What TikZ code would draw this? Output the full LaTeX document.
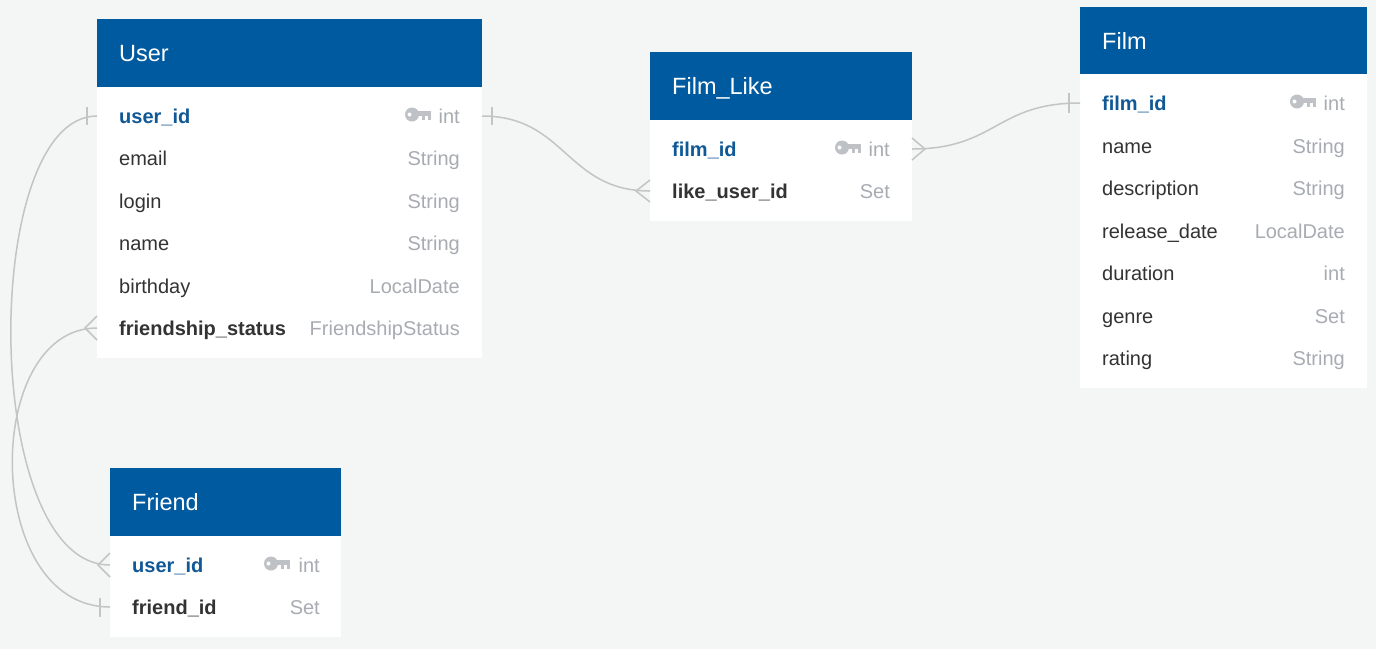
\documentclass[tikz,border=0pt]{standalone}
\usepackage{fontspec}
\setmainfont{Liberation Sans}
\usetikzlibrary{calc}
\definecolor{bg}{RGB}{244,245,245}
\definecolor{hdr}{RGB}{0,90,160}
\definecolor{pk}{RGB}{16,88,150}
\definecolor{txt}{RGB}{51,51,51}
\definecolor{typ}{RGB}{168,172,178}
\definecolor{keyc}{RGB}{190,193,197}
\definecolor{ln}{RGB}{196,196,196}
\tikzset{
 tbody/.style={fill=white, draw=none, inner sep=0pt, outer sep=0pt, anchor=north west},
 thead/.style={fill=hdr, draw=none, inner sep=0pt, outer sep=0pt, anchor=north west, minimum height=68pt},
 htext/.style={text=white, font=\fontsize{23.5}{28}\selectfont, inner sep=0pt, anchor=base west},
 fld/.style={text=txt, font=\fontsize{20}{24}\selectfont, inner sep=0pt, anchor=base west},
 fldb/.style={text=txt, font=\fontsize{20}{24}\selectfont\bfseries, inner sep=0pt, anchor=base west},
 fpk/.style={text=pk, font=\fontsize{20}{24}\selectfont\bfseries, inner sep=0pt, anchor=base west},
 ftype/.style={text=typ, font=\fontsize{20}{24}\selectfont, inner sep=0pt, anchor=base east},
 conn/.style={draw=ln, line width=1.5pt},
 keyicon/.pic={
   \fill[keyc] (-19,0) circle (7);
   \fill[white] (-21.5,0) circle (2);
   \fill[keyc] (-14,-3.5) rectangle (0,1.8);
   \fill[keyc] (-9.5,1.8) rectangle (-6,5.5);
   \fill[keyc] (-3.5,1.8) rectangle (0,5.5);
 }
}
\begin{document}
\begin{tikzpicture}[x=1pt,y=-1pt]
\useasboundingbox (0,0) rectangle (1376,649);
\fill[bg] (0,0) rectangle (1376,649);

% ---------- User ----------
\node[tbody, minimum width=385pt, minimum height=339pt] (User) at (97,19) {};
\node[thead, minimum width=385pt] (User-h) at (97,19) {};
\node[htext] (User-t) at (119,61.5) {User};
\node[fpk] (User-uid) at (119,123.5) {user\_id};
\pic at (431,114.5) {keyicon};
\node[ftype] (User-uid-t) at (460,123.5) {int};
\node[fld] (User-email) at (119,165.5) {email};
\node[ftype] (User-email-t) at (460,165.5) {String};
\node[fld] (User-login) at (119,208.5) {login};
\node[ftype] (User-login-t) at (460,208.5) {String};
\node[fld] (User-name) at (119,250.5) {name};
\node[ftype] (User-name-t) at (460,250.5) {String};
\node[fld] (User-bd) at (119,293.5) {birthday};
\node[ftype] (User-bd-t) at (460,293.5) {LocalDate};
\node[fldb] (User-fs) at (119,335.5) {friendship\_status};
\node[ftype] (User-fs-t) at (460,335.5) {FriendshipStatus};

% ---------- Film_Like ----------
\node[tbody, minimum width=262pt, minimum height=169pt] (FL) at (650,52) {};
\node[thead, minimum width=262pt] (FL-h) at (650,52) {};
\node[htext] (FL-t) at (672,94.5) {Film\_Like};
\node[fpk] (FL-fid) at (672,156.5) {film\_id};
\pic at (861,147.5) {keyicon};
\node[ftype] (FL-fid-t) at (890,156.5) {int};
\node[fldb] (FL-lu) at (672,198.5) {like\_user\_id};
\node[ftype] (FL-lu-t) at (890,198.5) {Set};

% ---------- Film ----------
\node[tbody, minimum width=287pt, minimum height=381pt] (Film) at (1080,7) {};
\node[thead, minimum width=287pt, minimum height=67pt] (Film-h) at (1080,7) {};
\node[htext] (Film-t) at (1102,49) {Film};
\node[fpk] (Film-fid) at (1102,110.5) {film\_id};
\pic at (1316,101.5) {keyicon};
\node[ftype] (Film-fid-t) at (1345,110.5) {int};
\node[fld] (Film-name) at (1102,153.5) {name};
\node[ftype] (Film-name-t) at (1345,153.5) {String};
\node[fld] (Film-desc) at (1102,195.5) {description};
\node[ftype] (Film-desc-t) at (1345,195.5) {String};
\node[fld] (Film-rd) at (1102,238.5) {release\_date};
\node[ftype] (Film-rd-t) at (1345,238.5) {LocalDate};
\node[fld] (Film-dur) at (1102,280.5) {duration};
\node[ftype] (Film-dur-t) at (1345,280.5) {int};
\node[fld] (Film-genre) at (1102,323.5) {genre};
\node[ftype] (Film-genre-t) at (1345,323.5) {Set};
\node[fld] (Film-rating) at (1102,365.5) {rating};
\node[ftype] (Film-rating-t) at (1345,365.5) {String};

% ---------- Friend ----------
\node[tbody, minimum width=231pt, minimum height=169pt] (Fr) at (110,468) {};
\node[thead, minimum width=231pt] (Fr-h) at (110,468) {};
\node[htext] (Fr-t) at (132,510.5) {Friend};
\node[fpk] (Fr-uid) at (132,572.5) {user\_id};
\pic at (290,563.5) {keyicon};
\node[ftype] (Fr-uid-t) at (320,572.5) {int};
\node[fldb] (Fr-fid) at (132,614.5) {friend\_id};
\node[ftype] (Fr-fid-t) at (320,614.5) {Set};

% ---------- connector end points ----------
\coordinate (U-uid-E) at (482,116);
\coordinate (U-uid-W) at (97,116);
\coordinate (U-fs-W) at (97,328);
\coordinate (FL-fid-E) at (912,149);
\coordinate (FL-lu-W) at (650,191);
\coordinate (F-fid-W) at (1080,103);
\coordinate (Fr-uid-W) at (110,565);
\coordinate (Fr-fid-W) at (110,607);

% ---------- connectors ----------
\draw[conn] (U-uid-E) .. controls +(84,0) and +(-84,0) .. (FL-lu-W);
\draw[conn] (FL-fid-E) .. controls +(84,0) and +(-84,0) .. (F-fid-W);
\draw[conn] (U-uid-W) .. controls +(-117,0) and +(-130,0) .. (Fr-uid-W);
\draw[conn] (U-fs-W) .. controls +(-115,0) and +(-128,0) .. (Fr-fid-W);

% bars (one)
\draw[conn] ($(U-uid-E)+(10,-9)$) -- ($(U-uid-E)+(10,9)$);
\draw[conn] ($(U-uid-W)+(-10,-9)$) -- ($(U-uid-W)+(-10,9)$);
\draw[conn] ($(F-fid-W)+(-11,-10)$) -- ($(F-fid-W)+(-11,10)$);
\draw[conn] ($(Fr-fid-W)+(-10,-9.5)$) -- ($(Fr-fid-W)+(-10,9.5)$);
% crow's feet (many)
\draw[conn] ($(FL-lu-W)+(0,-11)$) -- ($(FL-lu-W)+(-14,0)$) -- ($(FL-lu-W)+(0,11)$);
\draw[conn] ($(FL-fid-E)+(0,-11)$) -- ($(FL-fid-E)+(13,0)$) -- ($(FL-fid-E)+(0,11)$);
\draw[conn] ($(Fr-uid-W)+(0,-12)$) -- ($(Fr-uid-W)+(-12,0)$) -- ($(Fr-uid-W)+(0,12)$);
\draw[conn] ($(U-fs-W)+(0,-12)$) -- ($(U-fs-W)+(-12,0)$) -- ($(U-fs-W)+(0,12)$);
\end{tikzpicture}
\end{document}
